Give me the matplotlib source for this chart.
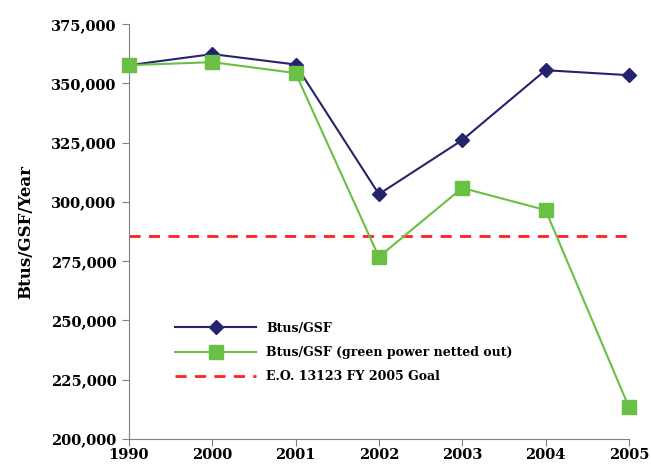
import matplotlib.pyplot as plt
from matplotlib.ticker import FuncFormatter

# Data
years = ['1990', '2000', '2001', '2002', '2003', '2004', '2005']
btus_gsf = [357700, 362400, 358000, 303300, 326100, 355600, 353500]
btus_green = [357700, 359000, 354400, 276800, 305900, 296600, 213500]
goal = 285600

plt.rcParams['font.family'] = ['DejaVu Serif']
plt.rcParams['font.weight'] = 'bold'

fig = plt.figure(figsize=(6.51, 4.66), dpi=100)
ax = fig.add_axes([0.198, 0.058, 0.768, 0.890])

x = list(range(len(years)))

ax.plot(x, btus_gsf, color='#24246e', marker='D', markersize=7, linewidth=1.5,
        label='Btus/GSF', clip_on=False, zorder=3)
ax.plot(x, btus_green, color='#6abf45', marker='s', markersize=10, linewidth=1.5,
        label='Btus/GSF (green power netted out)', clip_on=False, zorder=4)
ax.axhline(goal, color='#ff2020', linestyle=(0, (4, 3)), linewidth=2,
           label='E.O. 13123 FY 2005 Goal', zorder=2)

ax.set_xlim(0, len(years) - 1)
ax.set_ylim(200000, 375000)
ax.set_xticks(x)
ax.set_xticklabels(years)
ax.set_yticks(range(200000, 375001, 25000))
ax.yaxis.set_major_formatter(FuncFormatter(lambda v, p: f'{int(v):,}'))

for s in ['top', 'right']:
    ax.spines[s].set_visible(False)
for s in ['left', 'bottom']:
    ax.spines[s].set_color('#808080')
ax.tick_params(axis='both', color='#808080', length=5, labelsize=10.5)
ax.tick_params(axis='x', pad=1.5)
ax.tick_params(axis='y', pad=4)

ax.set_ylabel('Btus/GSF/Year', fontsize=12, fontweight='bold', labelpad=12)

leg = ax.legend(loc='upper left', bbox_to_anchor=(0.07, 0.31), frameon=False,
                handlelength=6.5, fontsize=9, labelspacing=0.9)

fig.savefig('out.png', dpi=100)
